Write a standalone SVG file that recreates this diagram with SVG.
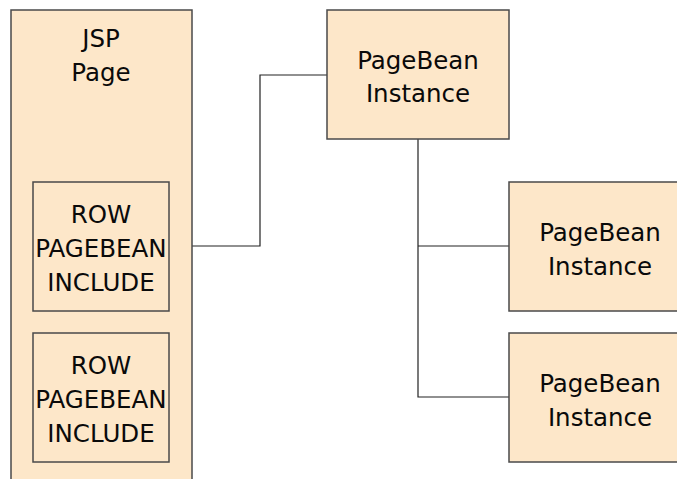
<svg xmlns="http://www.w3.org/2000/svg" width="677" height="479" viewBox="0 0 677 479">
  <style>
    .box { fill: #FDE7C9; stroke: #4A4A4A; stroke-width: 1.5; }
    .label { font-family: "DejaVu Sans", "Liberation Sans", sans-serif; font-size: 24.5px; fill: #0A0A0A; text-anchor: middle; }
    .wire { fill: none; stroke: #222222; stroke-width: 1.2; }
  </style>
  <rect width="677" height="479" fill="#FFFFFF"/>

  <g id="connectors">
    <polyline class="wire" points="192,246 260,246 260,75 327,75"/>
    <polyline class="wire" points="418,139 418,397 509,397"/>
    <line class="wire" x1="418" y1="246" x2="509" y2="246"/>
  </g>

  <g id="jsp-page">
    <rect class="box" x="11" y="10" width="181" height="480"/>
    <text class="label" x="101" y="47">JSP</text>
    <text class="label" x="101" y="81">Page</text>
  </g>

  <g id="row-include-1">
    <rect class="box" x="33" y="182" width="136" height="129"/>
    <text class="label" x="101" y="223">ROW</text>
    <text class="label" x="101" y="257">PAGEBEAN</text>
    <text class="label" x="101" y="291">INCLUDE</text>
  </g>

  <g id="row-include-2">
    <rect class="box" x="33" y="333" width="136" height="129"/>
    <text class="label" x="101" y="374">ROW</text>
    <text class="label" x="101" y="408">PAGEBEAN</text>
    <text class="label" x="101" y="442">INCLUDE</text>
  </g>

  <g id="pagebean-root">
    <rect class="box" x="327" y="10" width="182" height="129"/>
    <text class="label" x="418" y="69">PageBean</text>
    <text class="label" x="418" y="102">Instance</text>
  </g>

  <g id="pagebean-child-1">
    <rect class="box" x="509" y="182" width="182" height="129"/>
    <text class="label" x="600" y="241">PageBean</text>
    <text class="label" x="600" y="275">Instance</text>
  </g>

  <g id="pagebean-child-2">
    <rect class="box" x="509" y="333" width="182" height="129"/>
    <text class="label" x="600" y="392">PageBean</text>
    <text class="label" x="600" y="426">Instance</text>
  </g>
</svg>
